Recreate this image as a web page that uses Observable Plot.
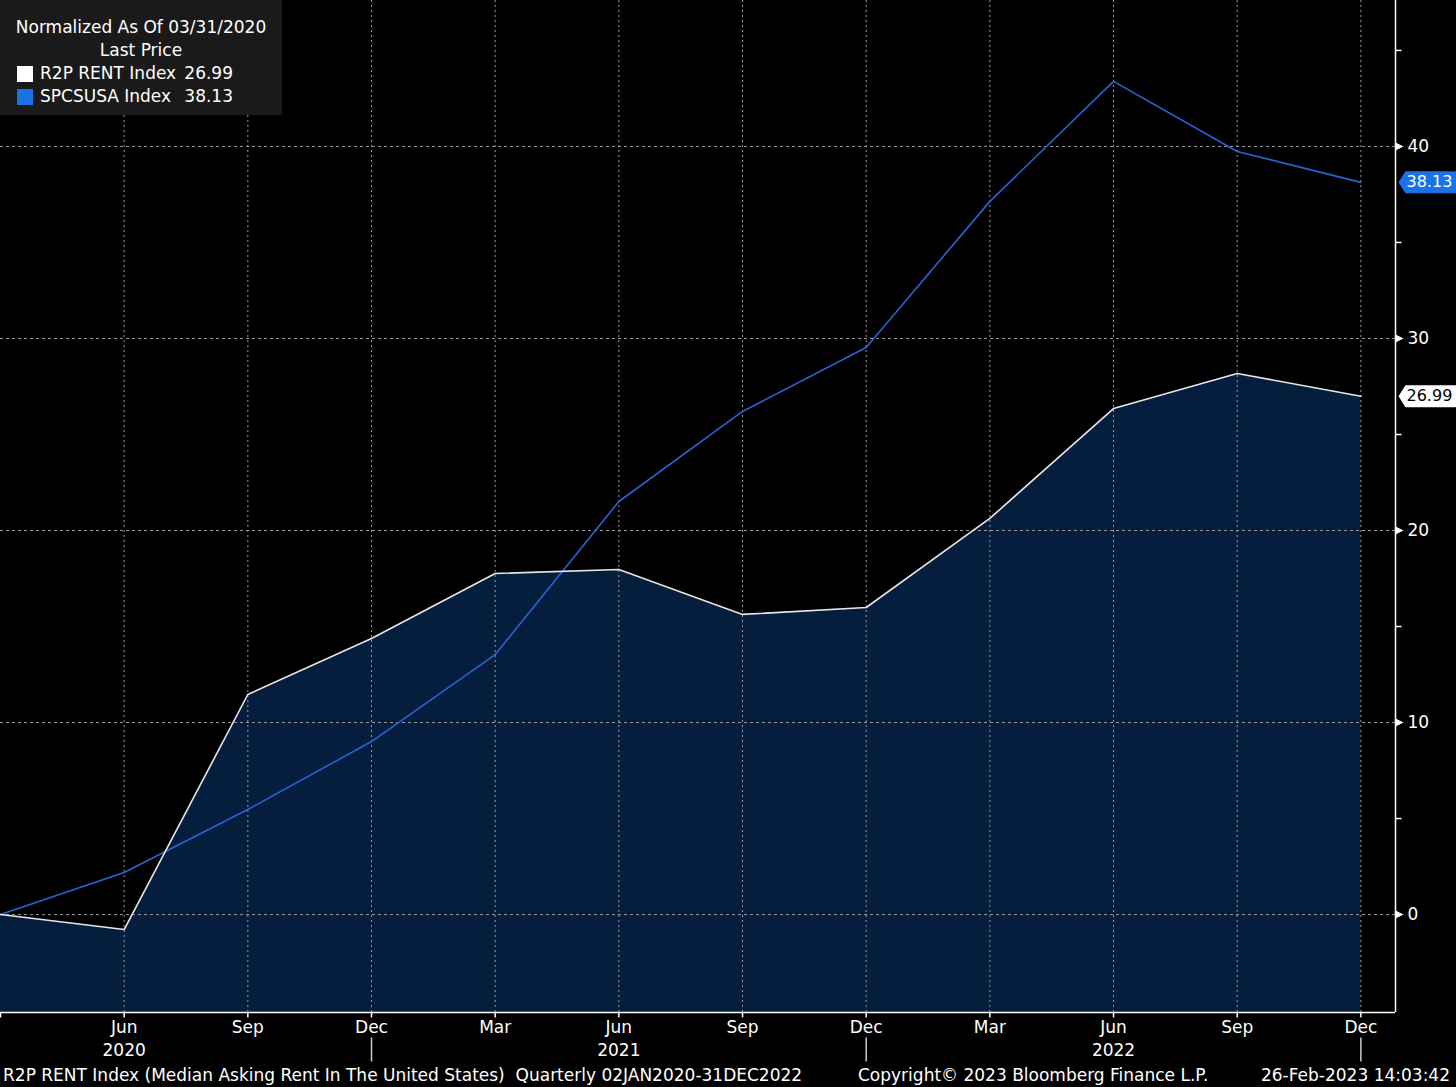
<!DOCTYPE html>
<html><head><meta charset="utf-8">
<script src="https://cdn.jsdelivr.net/npm/d3@7"></script>
<script src="https://cdn.jsdelivr.net/npm/@observablehq/plot@0.6"></script>
<style>
html,body{margin:0;padding:0;background:#000;}
#wrap{position:relative;width:1456px;height:1087px;overflow:hidden;font-family:"DejaVu Sans",sans-serif;color:#fff;}
#legend{position:absolute;left:0;top:0;width:282px;height:115px;background:#1a1a1a;font-size:17px;line-height:23px;}
#legend .row{position:absolute;left:0;width:282px;white-space:pre;}
#legend .sw{position:absolute;left:17px;width:16px;height:16px;top:4px;}
#legend .nm{position:absolute;left:40px;}
#legend .vl{position:absolute;right:49px;}
.foot{position:absolute;top:1065px;font-size:17px;white-space:pre;}
</style></head>
<body>
<div id="wrap">
  <div id="chart"></div>
  <div id="legend"></div>
  <div class="foot" id="f1" style="left:3px"></div>
  <div class="foot" id="f2" style="left:858px"></div>
  <div class="foot" id="f3" style="right:6px"></div>
</div>
<script>
// ---- data ----
const quarterLabels = ["Mar","Jun","Sep","Dec","Mar","Jun","Sep","Dec","Mar","Jun","Sep","Dec"];
const yearLabels = ["2020","2021","2022"];
const yearIndex = [1,5,9];
const yearSepIndex = [3,7,11];
const rentValues = [0,-0.78,11.46,14.38,17.76,17.97,15.63,15.99,20.63,26.35,28.18,26.99];
const spcsValues = [0,2.19,5.47,9.01,13.54,21.51,26.2,29.53,37.14,43.39,39.74,38.13];
const yTicks = [0,10,20,30,40];
const yMinorTicks = [5,15,25,35,45];
const seriesNames = ["R2P RENT Index","SPCSUSA Index"];
const lastValues = ["26.99","38.13"];
const titleText = "Normalized As Of 03/31/2020";
const subtitleText = "Last Price";
const footerLeft = "R2P RENT Index (Median Asking Rent In The United States)  Quarterly 02JAN2020-31DEC2022";
const footerMid = "Copyright\u00a9 2023 Bloomberg Finance L.P.";
const footerRight = "26-Feb-2023 14:03:42";

const rows = quarterLabels.map((q,i)=>({i, q, rent: rentValues[i], spcs: spcsValues[i]}));
const xMax = 11.28, yMin = -5.1, yMax = 47.6;
const last = rows[rows.length-1];

const tri = {draw(c){c.moveTo(0,-4);c.lineTo(8,0);c.lineTo(0,4);c.closePath();}};
const minorSym = {draw(c){c.moveTo(0,0);c.lineTo(6,0);}};
const sepSym = {draw(c){c.moveTo(0,0);c.lineTo(0,24);}};
const tag = {draw(c){c.moveTo(0,0);c.lineTo(7,-11);c.lineTo(60,-11);c.lineTo(60,11);c.lineTo(7,11);c.closePath();}};

const BLUE = "#2a62d8", TAGBLUE = "#1a72e8", AREA = "#061e3d", GRID = "#9a9a9a";
const FONT = '"DejaVu Sans",sans-serif';

const chart = Plot.plot({
  width: 1456, height: 1087,
  marginLeft: 0, marginRight: 61, marginTop: 0, marginBottom: 75,
  x: {domain: [0, xMax], axis: null},
  y: {domain: [yMin, yMax], axis: null},
  style: {background: "#000", color: "#fff", fontFamily: FONT, fontSize: "17px"},
  marks: [
    Plot.areaY(rows, {x: "i", y1: () => yMin, y2: "rent", fill: AREA}),
    Plot.ruleX(rows.filter(d=>d.i>0), {x: "i", y1: yMin, y2: yMax, stroke: GRID, strokeDasharray: "2,3"}),
    Plot.ruleY(yTicks, {y: d=>d, x1: 0, x2: xMax, stroke: GRID, strokeDasharray: "3,3"}),
    Plot.line(rows, {x: "i", y: "spcs", stroke: BLUE, strokeWidth: 1.6}),
    Plot.line(rows, {x: "i", y: "rent", stroke: "#e6e6e6", strokeWidth: 1.6}),
    Plot.ruleX([xMax], {y1: yMin, y2: yMax, stroke: "#fff", strokeWidth: 1.5}),
    Plot.ruleY([yMin], {x1: 0, x2: xMax, stroke: "#fff", strokeWidth: 1.5}),
    Plot.dot(yTicks, {x: xMax, y: d=>d, symbol: tri, fill: "#fff", r: 4}),
    Plot.dot(yMinorTicks, {x: xMax, y: d=>d, symbol: minorSym, stroke: "#fff", fill: "none", r: 3}),
    Plot.text(yTicks, {x: xMax, y: d=>d, text: d=>String(d), dx: 12, textAnchor: "start", fill: "#fff", fontSize: 17}),
    Plot.dot([last], {x: xMax, y: "spcs", symbol: tag, fill: TAGBLUE, r: 3, dx: 3}),
    Plot.text([last], {x: xMax, y: "spcs", text: () => lastValues[1], dx: 11, textAnchor: "start", fill: "#fff", fontSize: 16}),
    Plot.dot([last], {x: xMax, y: "rent", symbol: tag, fill: "#fff", r: 3, dx: 3}),
    Plot.text([last], {x: xMax, y: "rent", text: () => lastValues[0], dx: 11, textAnchor: "start", fill: "#000", fontSize: 16}),
    Plot.dot(rows, {x: "i", y: yMin, symbol: {draw(c){c.moveTo(0,0);c.lineTo(0,5);}}, stroke: "#fff", fill: "none", r: 3}),
    Plot.text(rows.filter(d=>d.i>0), {x: "i", y: yMin, text: "q", dy: 15, lineAnchor: "middle", fill: "#fff", fontSize: 17}),
    Plot.text(yearIndex, {x: d=>d, y: yMin, text: (d,k)=>yearLabels[k], dy: 38, lineAnchor: "middle", fill: "#fff", fontSize: 17}),
    Plot.dot(yearSepIndex, {x: d=>d, y: yMin, symbol: sepSym, stroke: "#ccc", fill: "none", r: 3, dy: 25})
  ]
});
document.getElementById("chart").appendChild(chart);

// legend
const lg = document.getElementById("legend");
lg.innerHTML =
  `<div class="row" style="top:16px;text-align:center">${titleText}</div>` +
  `<div class="row" style="top:39px;text-align:center">${subtitleText}</div>` +
  `<div class="row" style="top:62px"><span class="sw" style="background:#fff"></span><span class="nm">${seriesNames[0]}</span><span class="vl">${lastValues[0]}</span></div>` +
  `<div class="row" style="top:85px"><span class="sw" style="background:${TAGBLUE}"></span><span class="nm">${seriesNames[1]}</span><span class="vl">${lastValues[1]}</span></div>`;
document.getElementById("f1").textContent = footerLeft;
document.getElementById("f2").textContent = footerMid;
document.getElementById("f3").textContent = footerRight;
</script>
</body></html>
